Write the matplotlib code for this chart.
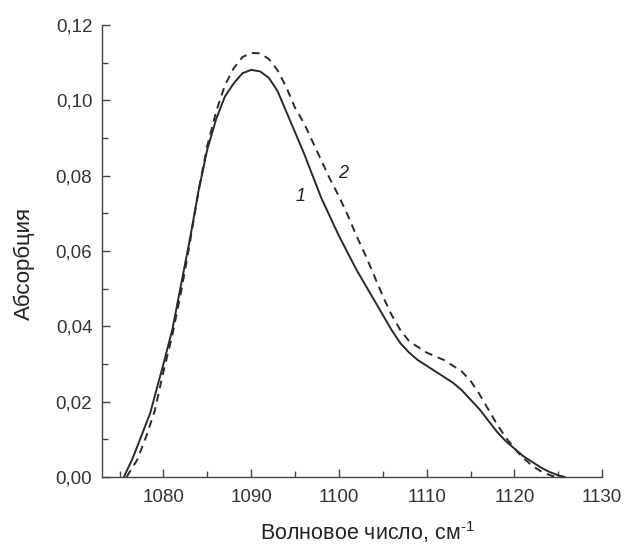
import matplotlib
matplotlib.use("Agg")
import matplotlib.pyplot as plt
from matplotlib.ticker import MultipleLocator, FuncFormatter

plt.rcParams['font.family'] = ['Liberation Sans', 'DejaVu Sans']
plt.rcParams['mathtext.fontset'] = 'custom'
plt.rcParams['mathtext.rm'] = 'Liberation Sans'

# curve 1 (solid)
wn1 = [1075.5, 1076.5, 1077.5, 1078.5, 1079.3, 1080, 1081, 1082, 1083, 1084,
       1085, 1086, 1087, 1088, 1089, 1090, 1091, 1092, 1093, 1094,
       1095, 1096, 1097, 1098, 1099, 1100, 1101, 1102, 1103, 1104,
       1105, 1106, 1107, 1108, 1109, 1110, 1111, 1112, 1113, 1114,
       1115, 1116, 1117, 1118, 1119, 1120, 1121, 1122, 1123, 1124,
       1125, 1125.7]
abs1 = [0.0, 0.005, 0.011, 0.017, 0.024, 0.030, 0.039, 0.051, 0.063, 0.076,
        0.087, 0.095, 0.101, 0.1045, 0.1072, 0.1081, 0.1077, 0.106, 0.1025, 0.097,
        0.0915, 0.086, 0.080, 0.074, 0.069, 0.064, 0.0595, 0.055, 0.051, 0.047,
        0.043, 0.039, 0.0355, 0.033, 0.031, 0.0295, 0.028, 0.0265, 0.025, 0.023,
        0.0205, 0.018, 0.015, 0.012, 0.0095, 0.0075, 0.0055, 0.004, 0.0025, 0.0013,
        0.0004, 0.0]

# curve 2 (dashed)
wn2 = [1075.8, 1077, 1078, 1079, 1080, 1081, 1082, 1083, 1084, 1085,
       1086, 1087, 1088, 1089, 1090, 1091, 1092, 1093, 1094, 1095,
       1096, 1097, 1098, 1099, 1100, 1101, 1102, 1103, 1104, 1105,
       1106, 1107, 1108, 1109, 1110, 1111, 1112, 1113, 1114, 1115,
       1116, 1117, 1118, 1119, 1120, 1121, 1122, 1123, 1124, 1124.6]
abs2 = [0.0, 0.0045, 0.0105, 0.0175, 0.028, 0.0375, 0.049, 0.062, 0.076, 0.088,
        0.097, 0.104, 0.1085, 0.1115, 0.1126, 0.1125, 0.111, 0.108, 0.1035, 0.098,
        0.094, 0.089, 0.084, 0.079, 0.0745, 0.0695, 0.064, 0.059, 0.0535, 0.048,
        0.043, 0.039, 0.036, 0.0345, 0.033, 0.032, 0.031, 0.0295, 0.028, 0.0255,
        0.022, 0.018, 0.014, 0.0105, 0.0075, 0.005, 0.003, 0.0015, 0.0005, 0.0]

fig = plt.figure(figsize=(6.26, 5.45), dpi=100)
ax = fig.add_axes([0.163, 0.125, 0.799, 0.829])

col = '#2a2a2a'
ax.plot(wn1, abs1, color=col, lw=1.4, solid_joinstyle='round')
ax.plot(wn2, abs2, color=col, lw=1.4, linestyle=(0, (4, 3)))

ax.set_xlim(1073, 1130)
ax.set_ylim(0, 0.12)

for s in ['top', 'right']:
    ax.spines[s].set_visible(False)
for s in ['left', 'bottom']:
    ax.spines[s].set_color('#444444')
    ax.spines[s].set_linewidth(1.0)

ax.xaxis.set_major_locator(MultipleLocator(10))
ax.xaxis.set_minor_locator(MultipleLocator(5))
ax.yaxis.set_major_locator(MultipleLocator(0.02))
ax.yaxis.set_minor_locator(MultipleLocator(0.01))
ax.yaxis.set_major_formatter(FuncFormatter(lambda v, p: ('%.2f' % v).replace('.', ',')))
ax.tick_params(which='both', direction='in', color='#444444', width=1.0)
ax.tick_params(which='major', length=6, labelsize=13.5, labelcolor='#333333')
ax.tick_params(axis='x', which='major', pad=9)
ax.tick_params(axis='y', which='major', pad=7)
ax.tick_params(which='minor', length=4)

ax.set_xlabel('Волновое число, см$^{\\text{-1}}$', fontsize=15.5, color='#222222')
ax.xaxis.set_label_coords(0.53, -0.093)
ax.set_ylabel('Абсорбция', fontsize=16, color='#222222')
ax.yaxis.set_label_coords(-0.135, 0.473)

ax.text(1095.6, 0.0745, '1', fontsize=13, style='italic', color='#222222', ha='center', va='center')
ax.text(1100.5, 0.0805, '2', fontsize=13, style='italic', color='#222222', ha='center', va='center')

fig.savefig('out.png', dpi=100)
